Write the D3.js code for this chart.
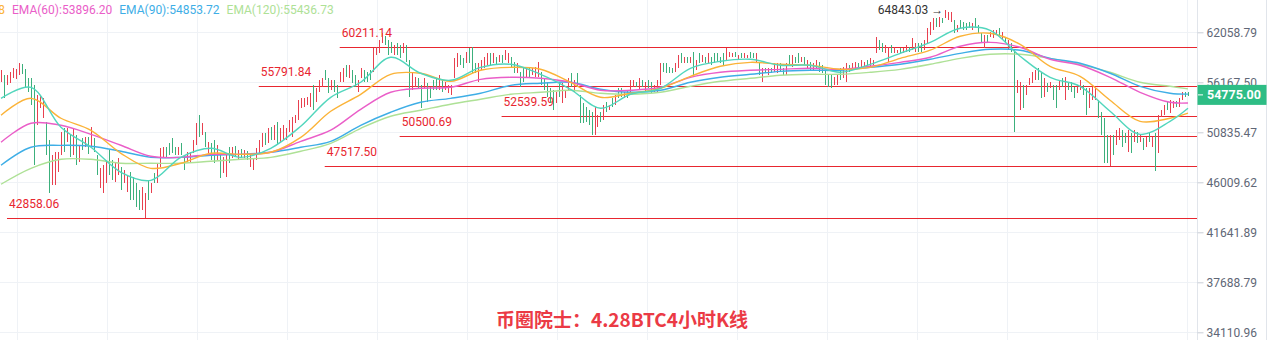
<!DOCTYPE html>
<html><head><meta charset="utf-8">
<script src="https://cdn.jsdelivr.net/npm/d3@7"></script>
<style>html,body{margin:0;padding:0;background:#fff;overflow:hidden}svg{display:block}</style>
</head><body>
<svg id="chart" width="1268" height="340"></svg>
<script>
// ---- data: 4h candles ----
const opens = [56510,56280,56060,56390,56850,56740,57310,58000,57080,56280,55840,53660,52280,53660,52810,51050,48760,46380,46480,47420,49150,50640,50130,50030,49250,49840,48270,49930,49540,49930,49840,49930,48070,45920,45650,46380,48470,47600,46480,47040,46850,46190,45470,46290,45920,45380,44840,44040,43430,45740,45200,46660,46380,47890,48560,49050,49440,49840,49150,48760,49440,48170,48070,48070,49050,50030,52070,50850,50440,48860,49350,49440,48470,48170,47230,46950,48960,48560,49150,48270,48960,48470,48760,47700,47420,48370,49050,49640,50440,50130,51050,50440,51250,50130,50440,50340,51150,50850,51970,52600,53550,53660,53870,53760,55180,54300,55400,55840,57310,56170,55510,56060,55510,56390,56510,57770,56970,57200,56620,55400,56850,57200,57080,57310,58000,59520,59880,60960,61320,60600,60480,59520,60360,60120,59760,60000,57650,55730,55840,56390,55180,55730,55510,55290,56170,56280,55730,56060,55510,55180,54960,57200,58230,59040,58690,58690,59640,59520,58110,56740,57770,58110,58460,59160,58570,58810,58690,59040,58930,58570,58810,58110,57430,56850,57430,56850,57650,57200,56970,57200,56970,56280,55730,55070,54740,54190,55730,54410,54630,55620,56850,55400,56850,53970,53340,53020,52700,52280,51250,51660,52700,52490,53760,53230,54190,53870,55290,55290,54520,55070,55400,55840,56060,55620,56170,55290,56170,55840,55290,55400,56390,58110,58110,57770,57650,57540,58110,59280,58460,58930,58460,58930,57770,59280,58690,58930,58570,58810,59280,59280,58930,59160,59040,59160,59160,59520,58810,59400,59040,59040,59520,59400,58690,58110,56510,57650,57200,57650,57540,57430,58110,57540,57310,59040,58230,58930,59280,58570,58810,58000,58230,57770,58000,58230,57880,57080,56620,56620,56060,56060,57430,56970,56740,57880,57880,57770,58230,58110,58000,58460,58000,58230,60000,60840,60480,59760,58930,60240,59640,59640,60000,59640,59880,60120,60240,59880,60480,60480,60120,61200,62070,62690,63570,62940,63690,64090,63820,63570,63190,62320,63320,63070,62940,63190,62570,63570,62690,61700,60480,61450,61570,61570,61820,62320,61320,61320,60120,60480,59640,55290,53870,55180,54960,56060,56390,56620,57430,56620,55070,55840,55620,55400,55180,55510,56390,54850,55950,55950,55290,55180,55510,55620,54740,53870,54520,54520,53760,52280,51150,49840,48270,50030,49930,50340,50640,50540,49350,50240,50130,50540,50030,49930,49540,50540,49540,49840,49640,52600,52810,53760,53130,53550,53970,53660,54410,54960,54960];
const highs = [57540,56970,56970,57310,57770,57650,58340,58230,57650,56620,56620,55840,54740,54740,54410,51860,50030,48560,48860,48860,50850,51250,51250,50540,51250,50540,49540,50240,50340,50340,51360,50240,48560,47320,47600,47890,49050,48070,47790,48270,47420,47130,46660,46950,46480,45920,45290,45560,45020,46190,45920,46850,47790,49250,49350,49350,49740,50240,49350,49350,49740,48560,48860,48860,50030,51760,52600,51760,50850,49840,49740,50030,49540,48760,48370,48560,49350,49350,49440,49050,49150,49050,48960,48760,48270,49250,50030,50740,50740,51250,51360,51560,51860,51250,51560,51250,52070,52390,52600,54190,54410,54410,54520,54960,55840,55510,56390,56620,57540,56620,56390,56390,55840,57310,57770,58110,58110,57540,56970,56390,57770,57540,57310,57540,60120,60240,61080,61950,61570,61080,60840,60480,60720,60480,60720,60480,58690,57310,56740,56620,55840,56620,56060,55620,56390,56620,56970,56390,56170,55840,55840,58930,59520,59280,58930,59640,60120,60240,58340,58340,58690,59040,59520,59520,59520,59040,59280,59280,59880,59520,59040,58460,58340,57310,57880,57770,57880,57770,57880,58460,57310,56620,56170,55510,55290,55070,56170,56060,55290,56620,57200,56390,57200,54740,53870,53450,53130,52920,53450,52600,52920,53660,53970,53660,54410,54740,55510,55510,55070,55290,56390,56390,56170,56620,56390,56170,56390,56170,55840,56390,58340,58340,58340,57880,57770,58340,59280,59520,59040,59040,59040,59640,58690,59520,59280,59040,59520,59040,59520,59520,59040,59520,60120,59640,59520,59640,59280,59520,59520,59280,59640,59520,59520,58460,57770,57770,57770,57770,58340,58340,58340,57770,58340,59280,59280,59040,59520,59040,59040,58690,58460,58340,58690,58460,58110,57540,56970,56970,56740,56970,57770,57880,58340,58110,58340,58460,58340,58690,58460,58690,58930,58690,61450,61080,60720,60480,60240,60480,60240,59880,60120,60120,60480,60240,61320,60720,60720,60720,61080,62570,63320,63820,63820,63950,63820,64843.03,64590,64590,63570,62940,63570,63320,63190,63320,63190,63820,62940,61950,61700,61700,62070,62320,62320,62570,62070,61450,61080,60720,59880,56390,56170,55840,55840,56620,57310,57540,57770,57310,56620,56060,56170,55840,55840,56390,56620,56740,56170,56170,55620,55840,56390,55840,55510,55510,55620,55510,54190,52920,52280,50540,50540,50540,51050,51250,51050,50740,51050,50740,51050,50850,50540,50240,50340,50740,50340,50740,52600,53130,53660,53970,54190,54080,54080,54410,55070,55070,55070];
const lows = [56170,54410,55840,56060,56620,56510,56970,57080,55510,55070,53660,47600,51560,53340,52280,48560,45020,45740,45740,46950,48560,48860,49840,48370,48560,47600,47890,49050,49350,48660,49350,48860,46660,45470,45020,45920,46660,46190,46010,46660,45290,45920,45110,44390,44390,43780,43520,43520,42860,44390,45020,45920,45920,47420,48270,48270,48560,48760,48560,48560,48560,47130,47890,47790,48760,49540,50340,50540,49350,48560,48070,47790,48070,46380,46850,46480,47790,48270,48370,48070,48270,48270,48070,47420,47130,48070,48760,49350,49540,49740,50030,50030,49540,49740,50030,50030,50850,50340,51760,52070,53340,53450,53660,53450,53130,53970,55070,55620,56390,54960,55290,55070,54410,56170,56170,56740,56620,56060,55620,55070,56620,56170,56170,56390,57310,59280,59520,60720,60480,59280,59520,59280,59280,58930,59520,58460,54520,55290,55620,55510,53340,55510,53970,54410,55290,55290,55290,55070,55290,54960,54740,56620,57880,58110,57770,58340,58340,57200,57200,56170,57540,57770,58110,58110,58340,58110,58460,58340,58690,58340,57880,57200,57200,55620,56170,56620,56740,56970,56740,56740,55840,55290,54520,53870,53130,53870,54520,53870,54410,55290,55620,55070,55620,51760,51760,51860,51560,50540,50540,51360,51860,52070,52920,53130,53450,53660,54410,54520,54410,54410,55070,55620,55620,55290,55620,55070,55510,54960,55070,55070,55840,57310,57200,57200,57200,57310,57770,58340,58340,58340,58340,56970,57540,58340,58460,58340,58340,58110,58340,58460,58340,58110,58690,59040,59040,59040,58690,58930,58930,58930,58930,58930,58460,56970,56170,57200,56970,57200,57310,57200,57310,56970,56970,58110,57880,58340,58340,58460,58110,57770,57540,57540,57770,57310,57200,55840,55620,55510,55840,55840,56390,56620,56170,57310,57770,57540,57770,57880,57880,57770,57770,58110,59520,59880,59640,59520,58460,59520,59520,59520,59520,59520,59640,59640,59880,59640,59640,59640,59880,60720,61700,62320,62690,62690,63190,63820,63570,63320,61950,62070,62570,62320,62320,62570,62320,62570,61950,60840,60120,60840,61450,61320,61700,61700,61080,60720,59880,59640,50850,54960,53130,53340,54740,55840,56060,56390,56390,54410,54520,55070,55510,54190,53340,55290,55620,54190,55290,55070,54410,54960,55290,54740,52600,53340,54190,54190,52280,50540,47790,47790,47510,48560,49540,50030,49350,49740,48860,48760,49840,49740,49840,49050,49350,49840,49350,47040,48760,52390,52600,53130,52810,53340,53450,53450,54190,54520,54630];
const closes = [57200,55070,56740,56970,57540,57430,58000,57310,56060,55400,54410,49540,53970,54410,53870,49350,46190,47890,48070,48370,50240,49440,50950,48860,50540,48270,49150,49350,50130,49050,50850,49150,47130,46850,46950,47420,47230,46660,47320,47890,45830,46850,46290,45020,44930,44300,43950,45020,44480,44840,45740,46100,47320,48760,49050,48560,48860,49150,48760,49150,48860,47510,48660,48560,49740,51250,50850,51460,49740,49540,48470,48370,49150,46950,47980,48070,48170,49050,48660,48860,48470,48860,48270,48470,47980,48960,49740,50440,49840,50850,50340,51150,50130,50850,51150,50950,51760,51860,52390,53660,54190,54190,54300,54630,53760,55180,56060,56390,56620,55400,56170,55400,54740,57080,57430,57080,57770,56390,55950,56060,57540,56510,56390,56620,59400,60000,60720,61700,60720,59760,59880,60240,59640,59280,60480,58930,55510,56850,56510,55730,53970,56390,54520,54740,55510,55620,56510,55400,55950,55620,55620,58340,59160,58340,58000,59280,58810,57880,57430,57770,58460,58690,59160,58460,59280,58340,59040,58570,59640,59280,58110,57540,58110,56060,56620,57540,56970,57540,57650,58000,56170,55620,54960,54300,53660,54740,54960,55510,55070,56280,55950,56060,55950,52490,52280,52280,51970,51150,52700,52280,52070,53230,53130,53550,53660,54520,54630,54740,54960,54630,56060,56170,55730,56280,55840,55950,55730,55290,55620,56060,57770,57540,57430,57310,57310,58110,58930,58570,58930,58460,58930,57650,58460,58570,59040,58460,59280,58340,58570,58690,58460,58460,59760,59520,59400,59160,59160,59040,59400,59160,59040,59040,59280,57310,57430,57310,57540,57310,58110,58110,57540,57200,58000,58340,58930,58460,58570,58930,58340,58460,57770,58110,58460,57540,57430,56280,55950,55840,56510,56740,56740,57540,57770,57540,58230,58230,57880,58460,58340,58000,58690,58570,60960,60120,59880,60240,59760,59760,60120,59760,59640,60000,60240,59760,60960,60480,59880,59880,60840,62070,62940,63440,62940,63690,63320,64590,64340,64340,62320,62690,62820,62570,62570,62690,62940,62820,62200,61080,61320,61080,61950,62070,62200,61950,61820,60840,60840,59880,55070,56060,55400,53970,55620,56390,56970,57310,56740,55070,56060,55290,56060,54630,53970,56170,55840,56060,55510,55290,54740,55620,56170,54960,53340,54960,55290,55180,52700,51150,48860,48470,49740,49050,50640,50950,49740,49930,50540,49250,50740,50030,50340,49350,50130,50030,50130,47890,51660,52920,53450,53340,53870,53870,53550,54190,54850,54630,54775];

const emaIdx = [0,10,20,30,40,50,60,70,80,90,100,110,120,130,140,150,160,170,180,190,200,210,220,230,240,250,260,270,280,290,300,310,320,330,340,350,360,370,380,390,396];
const emaFast = [54400,55610,51350,49340,46940,46190,48360,49240,48360,49240,51450,54510,56170,59040,57190,56390,57870,58220,57070,55390,53330,54840,55500,57760,58570,58810,58110,58110,57300,58220,59510,60830,62560,62310,59160,56730,55720,53010,50630,51960,53330];
const ema30 = [52590,54400,52280,51040,48750,47310,47790,48750,48650,48850,50330,53010,54840,57070,57190,56280,57540,57870,57650,56170,54510,54950,55500,56840,57990,58450,58220,58110,57650,57870,58920,59880,61570,61940,60590,57990,56840,54190,51960,52280,52812.38];
const ema60 = [49830,51760,51550,50630,49540,48460,48360,48650,48650,48850,49930,51050,53220,55060,55500,55610,56500,56730,56620,56170,55280,55280,55610,56730,57300,57530,57640,57760,57640,57990,58450,59040,60350,60830,60230,58810,58110,56730,55060,53970,53896.20];
const ema90 = [47600,49340,49530,49440,48950,48360,48360,48560,48650,48850,49340,49930,51550,52910,53970,54400,54950,55830,56060,56170,55390,55060,55280,56170,56730,57070,57410,57530,57530,57870,58220,58810,59510,59990,59870,58920,58340,57190,55720,54950,54853.72];
const ema120 = [45830,47310,48170,48170,47790,47790,47790,47980,48170,48360,48950,49730,51240,52490,53120,53760,54300,54840,55060,55280,54950,54840,55060,55720,56280,56620,56960,57070,57070,57300,57640,58220,58920,59400,59400,58920,58220,57300,56170,55720,55436.73];
const emaNames = ["EMA(15)","EMA(30)","EMA(60)","EMA(90)","EMA(120)"];

// ---- axis / annotations ----
const yTicks = [62058.79,56167.50,50835.47,46009.62,41641.89,37688.79,34110.96];
const levels = [60211.14,55791.84,52539.59,50500.69,47517.50,42858.06];
const levelStartIdx = [113,86,167,133,108,2];
const peakIdx = 315, peakValue = 64843.03;
const lastPrice = 54775.00;
const title = "币圈院士：4.28BTC4小时K线";

// ---- drawing ----
const W = 1268, H = 340, plotR = 1197;
const svg = d3.select("#chart");
const x = d3.scaleLinear().domain([0, opens.length - 1]).range([1, 1188]);
const y = d3.scaleLog().domain([34110.96, 62058.79]).range([332.3, 32.3]);

const C = {up:"#e8404f", down:"#3cb07c", grid:"#eff2f6", axis:"#e1e5eb", label:"#5f6776",
  level:"#e8262f", emas:["#52d6bd","#fbb338","#ea5ec8","#3eaee6","#aee196"]};
const font = "Roboto, 'Noto Sans', sans-serif";

// grid
const gGrid = svg.append("g");
gGrid.selectAll("line.h").data(yTicks).join("line")
  .attr("x1",0).attr("x2",plotR).attr("y1",d=>Math.round(y(d))+0.5).attr("y2",d=>Math.round(y(d))+0.5)
  .attr("stroke",C.grid);
gGrid.selectAll("line.v").data(d3.range(5.5, opens.length, 30)).join("line")
  .attr("x1",d=>Math.round(x(d))+0.5).attr("x2",d=>Math.round(x(d))+0.5).attr("y1",0).attr("y2",H)
  .attr("stroke",C.grid);

svg.append("clipPath").attr("id","clip").append("rect").attr("x",0).attr("y",0).attr("width",plotR).attr("height",H);
const plot = svg.append("g").attr("clip-path","url(#clip)");

// level lines
const gLev = plot.append("g");
levels.forEach((v,k)=>{
  const x0 = x(levelStartIdx[k]), yy = Math.round(y(v))+0.5;
  gLev.append("line").attr("x1",x0).attr("x2",plotR).attr("y1",yy).attr("y2",yy).attr("stroke",C.level).attr("stroke-width",1);
  gLev.append("text").attr("x",x0+2).attr("y",yy-11).attr("fill",C.level)
    .attr("font-family",font).attr("font-size",12).text(v.toFixed(2));
});

// candles
const gC = plot.append("g").attr("shape-rendering","crispEdges");
opens.forEach((o,i)=>{
  const c = closes[i], col = c >= o ? C.up : C.down;
  const xi = Math.round(x(i));
  gC.append("rect").attr("x",xi).attr("width",1)
    .attr("y",y(highs[i])).attr("height",Math.max(1,y(lows[i])-y(highs[i]))).attr("fill",col);
  const top = y(Math.max(o,c)), bot = y(Math.min(o,c));
  gC.append("rect").attr("x",xi).attr("width",1).attr("y",top).attr("height",Math.max(1,bot-top)).attr("fill",col);
});

// EMA lines
const emaSeries = [emaFast, ema30, ema60, ema90, ema120];
const line = d3.line().x(d=>x(d[0])).y(d=>y(d[1])).curve(d3.curveCatmullRom.alpha(0.5));
emaSeries.slice().reverse().forEach((s,k)=>{
  const idx = emaSeries.length-1-k;
  plot.append("path").attr("d", line(emaIdx.map((ix,j)=>[ix,s[j]])))
    .attr("fill","none").attr("stroke",C.emas[idx]).attr("stroke-width",1.4);
});

// peak annotation
svg.append("text").attr("x",x(peakIdx)-2).attr("y",y(peakValue)+4).attr("text-anchor","end")
  .attr("fill","#333").attr("font-family",font).attr("font-size",12).text(peakValue.toFixed(2)+" →");

// axis
svg.append("line").attr("x1",plotR+0.5).attr("x2",plotR+0.5).attr("y1",0).attr("y2",H).attr("stroke",C.axis);
svg.append("line").attr("x1",W-1.5).attr("x2",W-1.5).attr("y1",0).attr("y2",H).attr("stroke",C.axis);
const ax = svg.append("g").attr("transform",`translate(${plotR+0.5},0)`)
  .call(d3.axisRight(y).tickValues(yTicks).tickFormat(d3.format(".2f")).tickSize(6).tickPadding(3));
ax.select(".domain").remove();
ax.selectAll(".tick line").attr("stroke","#c9ced6");
ax.selectAll(".tick text").attr("fill",C.label).attr("font-family",font).attr("font-size",12);

// last price box
const ly = y(lastPrice);
svg.append("rect").attr("x",plotR+0.5).attr("y",ly-10).attr("width",W-1.5-plotR-0.5).attr("height",20).attr("fill","#2ebd85");
svg.append("line").attr("x1",plotR+1).attr("x2",plotR+6).attr("y1",ly).attr("y2",ly).attr("stroke","#fff");
svg.append("text").attr("x",plotR+10).attr("y",ly).attr("dy","0.36em").attr("fill","#fff")
  .attr("font-family",font).attr("font-size",12.5).attr("font-weight","bold").text(lastPrice.toFixed(2));

// legend
const legend = svg.append("g").attr("font-family",font).attr("font-size",12);
const lastVals = emaSeries.map(s=>s[s.length-1]);
let cursor = 12;
for (let k=2;k<5;k++){
  const t = legend.append("text").attr("x",cursor).attr("y",14).attr("fill",C.emas[k]).text(`${emaNames[k]}:${lastVals[k].toFixed(2)}`);
  cursor += t.node().getComputedTextLength() + 7;
}
let back = 12 - 7;
for (let k=1;k>=0;k--){
  const t = legend.append("text").attr("x",back).attr("y",14).attr("text-anchor","end").attr("fill",C.emas[k]).text(`${emaNames[k]}:${lastVals[k].toFixed(2)}`);
  back -= t.node().getComputedTextLength() + 7;
}

// title
svg.append("text").attr("x",622).attr("y",326.5).attr("text-anchor","middle")
  .attr("fill","#eb3a45").attr("font-family","'Noto Sans CJK SC', sans-serif").attr("font-size",19)
  .attr("font-weight","bold").text(title);
</script>
</body></html>
